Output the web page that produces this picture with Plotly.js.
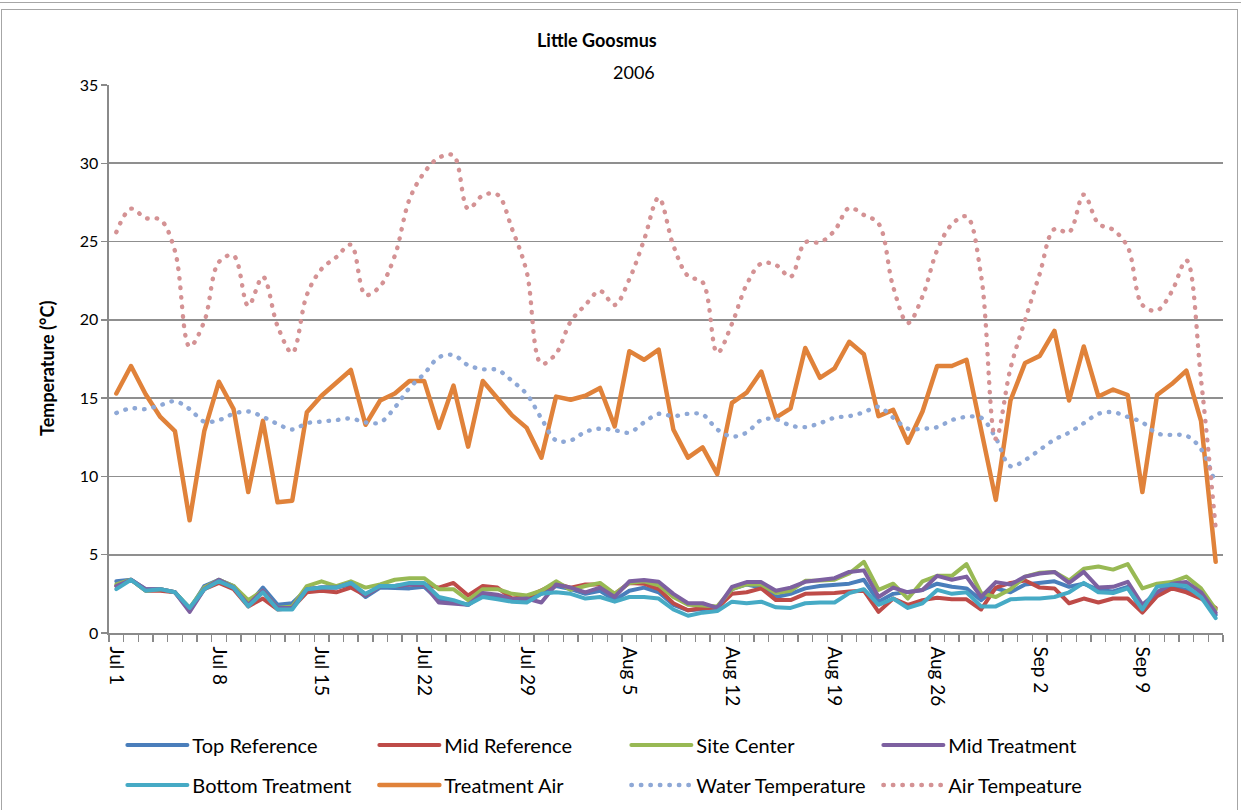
<!DOCTYPE html>
<html><head><meta charset="utf-8">
<script src="https://cdn.plot.ly/plotly-3.0.1.min.js"></script>
<style>
html,body{margin:0;padding:0;background:#fff;}
#wrap{position:relative;width:1241px;height:810px;overflow:hidden;}
#chart{position:absolute;left:0;top:0;width:1241px;height:810px;}
#frame{position:absolute;left:1px;top:9px;width:1235px;height:820px;border:1px solid #a6a6a6;pointer-events:none;}
#topline{position:absolute;left:0;top:2px;width:1241px;height:0;border-top:1px solid #a6a6a6;pointer-events:none;}
.js-line{stroke-linecap:round;stroke-linejoin:round;}
</style></head>
<body>
<div id="wrap"><div id="chart"></div><div id="topline"></div><div id="frame"></div></div>
<script>
const startDate = '2006-07-01';
const dayCount = 76;
const tickDates = ['2006-07-01','2006-07-08','2006-07-15','2006-07-22','2006-07-29','2006-08-05','2006-08-12','2006-08-19','2006-08-26','2006-09-02','2006-09-09'];
const tickLabels = ['Jul 1','Jul 8','Jul 15','Jul 22','Jul 29','Aug 5','Aug 12','Aug 19','Aug 26','Sep 2','Sep 9'];
const seriesNames = ['Top Reference','Mid Reference','Site Center','Mid Treatment','Bottom Treatment','Treatment Air','Water Temperature','Air Tempeature'];

const topReference = [3.3,3.4,2.8,2.8,2.6,1.5,3.0,3.4,3.0,1.8,2.9,1.8,1.9,2.8,2.9,2.9,3.1,2.3,2.9,2.85,2.85,2.95,2.1,2.0,1.8,2.4,2.3,2.1,2.2,2.5,3.0,2.8,2.5,2.7,2.1,2.7,2.9,2.6,1.8,1.45,1.55,1.6,2.8,3.1,2.9,2.3,2.5,2.85,3.0,3.05,3.15,3.4,2.0,2.5,2.6,2.75,3.15,2.95,2.85,2.1,2.85,2.6,3.1,3.2,3.3,2.95,3.15,2.75,2.65,2.95,1.35,2.4,2.95,2.75,2.4,1.15];
const midReference = [3.0,3.4,2.7,2.7,2.6,1.5,2.8,3.2,2.8,1.7,2.2,1.5,1.6,2.6,2.7,2.6,2.9,2.4,3.0,3.0,3.1,3.1,2.9,3.2,2.4,3.0,2.9,2.2,2.3,2.75,3.15,2.9,3.1,3.1,2.5,3.2,3.15,2.8,1.9,1.45,1.6,1.6,2.5,2.6,2.85,2.1,2.1,2.5,2.5,2.55,2.65,2.7,1.35,2.2,1.8,2.1,2.25,2.15,2.15,1.5,2.9,3.2,3.35,2.9,2.85,1.9,2.2,1.95,2.2,2.2,1.3,2.35,2.85,2.6,2.2,1.6];
const siteCenter = [3.1,3.4,2.7,2.8,2.6,1.6,2.9,3.4,3.0,2.1,2.7,1.6,1.7,3.0,3.3,3.0,3.3,2.9,3.1,3.4,3.5,3.5,2.8,2.8,2.1,2.8,2.8,2.5,2.4,2.7,3.3,2.75,3.0,3.2,2.5,3.2,3.3,3.05,2.3,1.8,1.75,1.7,2.8,3.1,3.1,2.55,2.7,3.33,3.35,3.4,3.8,4.55,2.75,3.15,2.2,3.3,3.65,3.65,4.4,2.55,2.3,2.8,3.6,3.85,3.9,3.35,4.1,4.25,4.05,4.4,2.85,3.15,3.25,3.6,2.85,1.5];
const midTreatment = [3.0,3.4,2.8,2.8,2.6,1.35,2.8,3.4,2.9,1.8,2.7,1.6,1.6,2.8,2.9,2.9,3.2,2.4,3.0,3.0,3.1,3.1,1.95,1.9,1.8,2.55,2.45,2.15,2.2,1.95,3.1,2.9,2.6,2.9,2.3,3.3,3.38,3.27,2.5,1.9,1.9,1.6,2.95,3.25,3.25,2.7,2.9,3.27,3.38,3.5,3.9,4.0,2.3,2.9,2.6,2.75,3.65,3.4,3.6,2.3,3.25,3.1,3.6,3.8,3.9,3.2,3.9,2.9,2.95,3.27,1.8,2.6,3.15,3.25,2.6,1.3];
const bottomTreatment = [2.8,3.4,2.7,2.8,2.6,1.6,2.8,3.3,2.9,1.7,2.6,1.5,1.5,2.8,2.9,2.9,3.2,2.5,3.0,3.0,3.2,3.2,2.3,2.1,1.8,2.3,2.15,2.0,1.95,2.5,2.6,2.5,2.2,2.3,2.0,2.3,2.3,2.2,1.5,1.1,1.3,1.4,2.0,1.9,2.0,1.64,1.6,1.9,1.95,1.95,2.55,2.8,1.8,2.2,1.6,1.9,2.75,2.5,2.6,1.7,1.7,2.15,2.2,2.2,2.3,2.6,3.2,2.6,2.55,2.85,1.5,2.95,3.1,3.0,2.3,0.95];
const treatmentAir = [15.3,17.05,15.25,13.8,12.9,7.2,12.9,16.05,14.3,9.0,13.55,8.35,8.45,14.1,15.15,16.0,16.8,13.3,14.85,15.3,16.1,16.1,13.1,15.8,11.9,16.1,14.95,13.9,13.1,11.2,15.1,14.9,15.15,15.65,13.2,18.0,17.45,18.1,13.0,11.2,11.85,10.15,14.7,15.35,16.7,13.75,14.35,18.2,16.3,16.9,18.6,17.8,13.85,14.25,12.15,14.15,17.05,17.05,17.45,12.9,8.5,14.85,17.25,17.7,19.3,14.85,18.3,15.1,15.55,15.2,9.0,15.2,15.9,16.75,13.55,4.55];
const waterTemperature = [14.05,14.35,14.3,14.55,14.8,14.3,13.5,13.6,14.0,14.15,13.8,13.35,13.0,13.4,13.5,13.6,13.7,13.45,13.45,14.4,15.65,16.55,17.6,17.75,17.1,16.85,16.8,16.1,15.25,13.7,12.3,12.3,12.85,13.05,12.95,12.8,13.45,14.0,13.85,14.0,13.95,13.0,12.55,12.8,13.6,13.65,13.25,13.15,13.4,13.75,13.85,14.1,14.45,13.75,13.05,13.05,13.15,13.6,13.8,13.75,12.45,10.65,11.05,11.7,12.35,12.8,13.4,14.0,14.1,13.8,13.45,12.75,12.65,12.6,11.75,9.5];
const airTemperature = [25.6,27.1,26.5,26.4,24.4,18.3,19.9,23.7,24.1,20.9,22.75,19.6,17.9,21.6,23.25,24.0,24.8,21.6,22.15,24.1,27.7,29.4,30.35,30.5,27.1,27.95,28.0,25.8,23.05,17.2,17.85,19.9,20.95,21.85,20.95,22.6,25.1,27.8,24.75,22.8,22.4,17.9,19.75,22.25,23.6,23.5,22.75,24.95,24.95,25.7,27.15,26.7,26.15,22.1,19.8,21.5,24.45,26.1,26.6,22.8,12.4,16.9,20.0,22.95,25.8,25.6,28.0,26.15,25.75,24.65,20.95,20.6,21.8,23.8,16.2,6.7];

const seriesValues = [topReference, midReference, siteCenter, midTreatment, bottomTreatment, treatmentAir, waterTemperature, airTemperature];
const seriesColors = ['#4A7EBB','#BE4B48','#98B954','#7D60A0','#46AAC5','#E0823A','#8EA8D6','#D49294'];

const dates = [];
for (let i = 0; i < dayCount; i++) {
  const d = new Date(Date.UTC(2006, 6, 1 + i));
  dates.push(d.toISOString().slice(0, 10));
}

const traces = seriesValues.map((vals, k) => {
  const dotted = k >= 6;
  return {
    type: 'scatter', mode: 'lines', x: dates, y: vals, name: seriesNames[k],
    legend: k < 4 ? 'legend' : 'legend2',
    line: dotted ? {color: seriesColors[k], width: 4.4, dash: '0.5px,9px', shape: 'spline', smoothing: 1}
                 : {color: seriesColors[k], width: k === 5 ? 4.5 : 4},
    hoverinfo: 'x+y+name'
  };
});

const fontFam = 'Lato, "Noto Sans", sans-serif';
const legendCommon = {orientation: 'h', xanchor: 'left', yanchor: 'middle', x: 0.012,
  font: {family: fontFam, size: 20, color: '#000'}, itemwidth: 60, entrywidth: 177, entrywidthmode: 'pixels',
  bgcolor: 'rgba(0,0,0,0)', traceorder: 'normal'};

const layout = {
  width: 1241, height: 810,
  margin: {l: 109, r: 18, t: 85, b: 177, autoexpand: false},
  paper_bgcolor: 'rgba(0,0,0,0)', plot_bgcolor: 'rgba(0,0,0,0)',
  font: {family: fontFam, size: 15, color: '#000'},
  showlegend: true,
  legend: Object.assign({}, legendCommon, {y: -0.2044}),
  legend2: Object.assign({}, legendCommon, {y: -0.2774}),
  xaxis: {
    type: 'date', range: ['2006-06-30 12:00', '2006-09-14 12:00'],
    tickmode: 'array', tickvals: tickDates, ticktext: tickLabels,
    ticks: '', tickangle: 90, ticklabelstandoff: 8, tickfont: {family: fontFam, size: 19, color: '#000'},
    showgrid: false, zeroline: false, showline: true, linecolor: '#8a8a8a', linewidth: 1.6,
    minor: {tickmode: 'linear', tick0: '2006-06-30 12:00', dtick: 86400000, ticks: 'outside', ticklen: 7, tickcolor: '#8a8a8a', tickwidth: 1.4, showgrid: false},
    fixedrange: true
  },
  yaxis: {
    range: [0, 35], tickmode: 'linear', tick0: 0, dtick: 5,
    showgrid: true, gridcolor: '#8f8f8f', gridwidth: 1.8, zeroline: false,
    ticks: 'outside', ticklen: 6, tickcolor: '#8a8a8a', tickwidth: 1.4,
    showline: true, linecolor: '#8a8a8a', linewidth: 1.6,
    tickfont: {family: fontFam, size: 16, color: '#000'}, fixedrange: true
  },
  annotations: [
    {text: '<b>Little Goosmus</b>', xref: 'paper', yref: 'paper', x: 0.438, y: 1.082, showarrow: false, xanchor: 'center', yanchor: 'middle', font: {family: fontFam, size: 18, color: '#000'}},
    {text: '2006', xref: 'paper', yref: 'paper', x: 0.471, y: 1.024, showarrow: false, xanchor: 'center', yanchor: 'middle', font: {family: fontFam, size: 18, color: '#000'}},
    {text: '<b>Temperature (°C)</b>', xref: 'paper', yref: 'paper', x: -0.0557, y: 0.4836, showarrow: false, textangle: -90, xanchor: 'center', yanchor: 'middle', font: {family: fontFam, size: 18, color: '#000'}}
  ]
};

Plotly.newPlot('chart', traces, layout, {displayModeBar: false, staticPlot: true});
</script>
</body></html>
